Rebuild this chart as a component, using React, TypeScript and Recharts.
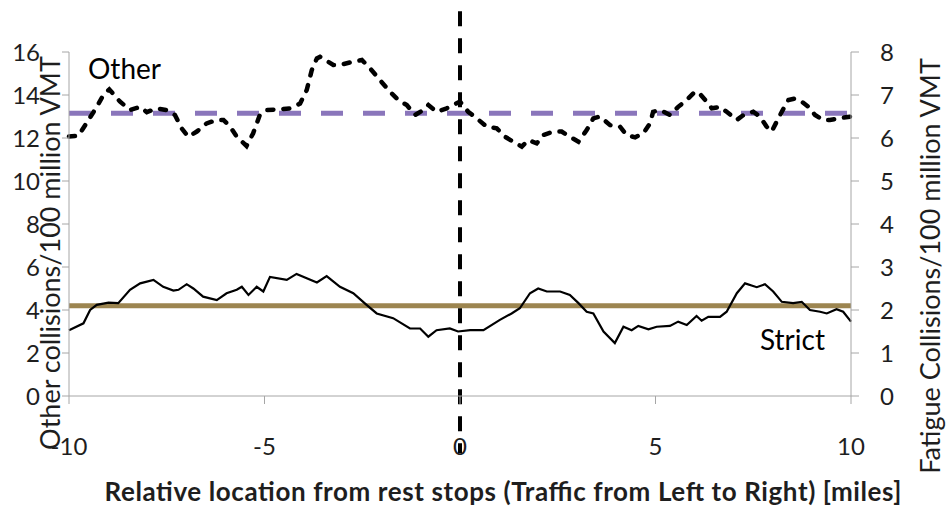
import { LineChart, Line, XAxis, YAxis, ReferenceLine } from "recharts";

// location relative to the rest stop, miles
const otherMiles = [-10, -9.76, -9.55, -9.29, -9.12, -8.97, -8.7, -8.44, -8.18, -8.01, -7.76, -7.5, -7.29, -7.12, -6.95, -6.73, -6.48, -6.22, -6.05, -5.88, -5.71, -5.46, -5.29, -5.12, -4.94, -4.6, -4.35, -4.09, -3.92, -3.79, -3.66, -3.58, -3.24, -3.07, -2.73, -2.51, -2.3, -2.05, -1.79, -1.58, -1.36, -1.15, -0.94, -0.81, -0.6, -0.34, 0, 0.21, 0.43, 0.68, 0.94, 1.15, 1.36, 1.58, 1.75, 1.96, 2.13, 2.39, 2.6, 2.81, 3.03, 3.24, 3.41, 3.58, 3.84, 4.09, 4.26, 4.48, 4.69, 4.86, 4.94, 5.12, 5.37, 5.58, 5.8, 5.97, 6.09, 6.27, 6.44, 6.65, 6.82, 7.08, 7.25, 7.5, 7.67, 7.84, 7.97, 8.1, 8.23, 8.4, 8.57, 8.74, 8.91, 9.08, 9.29, 9.46, 9.68, 10];
// other collisions / 100 million VMT (left axis)
const otherRate = [12.07, 12.1, 12.7, 13.45, 14.0, 14.26, 13.7, 13.3, 13.45, 13.2, 13.38, 13.3, 13.07, 12.45, 12.06, 12.3, 12.68, 12.84, 12.84, 12.53, 12.06, 11.63, 12.22, 13.07, 13.3, 13.33, 13.38, 13.6, 14.23, 15.16, 15.7, 15.78, 15.4, 15.4, 15.55, 15.63, 15.24, 14.7, 14.15, 13.77, 13.53, 13.07, 13.3, 13.53, 13.22, 13.38, 13.69, 13.22, 12.91, 12.53, 12.45, 12.06, 11.83, 11.6, 11.9, 11.75, 12.14, 12.3, 12.3, 12.06, 11.83, 12.37, 12.91, 13.0, 12.6, 12.53, 12.14, 12.03, 12.22, 12.68, 13.22, 13.3, 13.07, 13.45, 13.77, 14.08, 14.15, 13.77, 13.38, 13.45, 13.22, 12.84, 13.07, 13.22, 13.0, 12.53, 12.3, 12.76, 13.22, 13.77, 13.84, 13.69, 13.45, 13.07, 12.84, 12.84, 12.91, 13.0];

const strictMiles = [-10, -9.63, -9.46, -9.29, -8.99, -8.74, -8.44, -8.18, -7.84, -7.59, -7.33, -7.2, -6.99, -6.82, -6.57, -6.22, -5.97, -5.71, -5.58, -5.41, -5.2, -5.03, -4.86, -4.43, -4.18, -3.66, -3.41, -3.07, -2.73, -2.39, -2.13, -1.71, -1.28, -1.02, -0.81, -0.6, -0.26, -0.05, 0.26, 0.6, 1.02, 1.32, 1.53, 1.79, 2.0, 2.22, 2.56, 2.81, 3.03, 3.24, 3.41, 3.67, 3.96, 4.18, 4.39, 4.56, 4.82, 5.03, 5.37, 5.58, 5.8, 6.05, 6.18, 6.35, 6.65, 6.82, 7.08, 7.29, 7.59, 7.8, 8.01, 8.23, 8.52, 8.74, 8.95, 9.21, 9.38, 9.63, 9.8, 10];
// fatigue collisions / 100 million VMT (right axis)
const strictRate = [1.53, 1.69, 2.0, 2.12, 2.17, 2.16, 2.47, 2.62, 2.7, 2.54, 2.45, 2.47, 2.6, 2.5, 2.31, 2.23, 2.39, 2.47, 2.54, 2.35, 2.54, 2.43, 2.77, 2.7, 2.84, 2.64, 2.79, 2.54, 2.39, 2.12, 1.92, 1.81, 1.57, 1.57, 1.38, 1.53, 1.57, 1.5, 1.53, 1.53, 1.77, 1.92, 2.04, 2.39, 2.5, 2.43, 2.43, 2.35, 2.16, 1.96, 1.92, 1.5, 1.23, 1.61, 1.53, 1.63, 1.55, 1.61, 1.63, 1.73, 1.65, 1.86, 1.75, 1.84, 1.84, 1.96, 2.39, 2.62, 2.53, 2.6, 2.43, 2.19, 2.16, 2.19, 2.0, 1.96, 1.92, 2.02, 1.96, 1.73];

const otherMean = 13.15;
const strictMean = 2.1;

const xTicks = [-10, -5, 0, 5, 10];
const leftTicks = [0, 2, 4, 6, 8, 10, 12, 14, 16];
const rightTicks = [0, 1, 2, 3, 4, 5, 6, 7, 8];

const otherData = otherMiles.map((x, i) => ({ x, y: otherRate[i] }));
const strictData = strictMiles.map((x, i) => ({ x, y: strictRate[i] }));

const font = "Lato, 'Open Sans', sans-serif";
const axisGray = "#a6a6a6";
const tickStyle = { fill: "#1e1e1e", fontSize: 24, fontFamily: font };

export default function App() {
  return (
    <div style={{ position: "absolute", left: 0, top: 0, width: 948, height: 514, background: "#fff" }}>
      <LineChart
        width={948}
        height={514}
        margin={{ top: 52, right: 37, bottom: 58, left: 9 }}
        style={{ fontFamily: font }}
      >
        <XAxis
          type="number"
          dataKey="x"
          domain={[-10, 10]}
          ticks={xTicks}
          height={60}
          stroke={axisGray}
          tickSize={8}
          tick={{ ...tickStyle, dy: 32 }}
          label={{
            content: () => (
              <text x={503} y={501} textAnchor="middle" fontFamily={font} fontSize={26} fontWeight="bold" fill="#1e1e1e" textLength={797}>
                Relative location from rest stops (Traffic from Left to Right) [miles]
              </text>
            ),
          }}
        />
        <YAxis
          yAxisId="left"
          domain={[0, 16]}
          ticks={leftTicks}
          width={60}
          stroke={axisGray}
          tickSize={7}
          tickMargin={22}
          tick={tickStyle}
          label={{
            content: () => (
              <text transform="translate(60,253) rotate(-90)" textAnchor="middle" fontFamily={font} fontSize={27} fill="#1e1e1e">
                Other collisions/100 million VMT
              </text>
            ),
          }}
        />
        <YAxis
          yAxisId="right"
          orientation="right"
          domain={[0, 8]}
          ticks={rightTicks}
          width={60}
          stroke={axisGray}
          tickSize={8}
          tickMargin={21}
          tick={tickStyle}
          label={{
            content: () => (
              <text transform="translate(940,266) rotate(-90)" textAnchor="middle" fontFamily={font} fontSize={27} fill="#1e1e1e">
                Fatigue Collisions/100 million VMT
              </text>
            ),
          }}
        />
        <ReferenceLine
          yAxisId="left"
          y={otherMean}
          stroke="#8a76bb"
          strokeWidth={5}
          strokeDasharray="22 20"
          label={{
            content: () => (
              <text x={88} y={79} fontFamily={font} fontSize={28} fill="#000">
                Other
              </text>
            ),
          }}
        />
        <ReferenceLine
          yAxisId="right"
          y={strictMean}
          stroke="#9c8550"
          strokeWidth={5}
          label={{
            content: () => (
              <text x={760} y={350} fontFamily={font} fontSize={28} fill="#000">
                Strict
              </text>
            ),
          }}
        />
        <Line
          yAxisId="left"
          data={otherData}
          dataKey="y"
          type="linear"
          stroke="#000"
          strokeWidth={4.5}
          strokeDasharray="6 10"
          strokeLinecap="round"
          dot={false}
          isAnimationActive={false}
        />
        <Line
          yAxisId="right"
          data={strictData}
          dataKey="y"
          type="linear"
          stroke="#000"
          strokeWidth={2.2}
          dot={false}
          isAnimationActive={false}
        />
        <ReferenceLine
          yAxisId="left"
          segment={[{ x: 0, y: 17.9 }, { x: 0, y: -2.65 }]}
          ifOverflow="visible"
          stroke="#000"
          strokeWidth={4}
          strokeDasharray="15 12"
        />
      </LineChart>
    </div>
  );
}
